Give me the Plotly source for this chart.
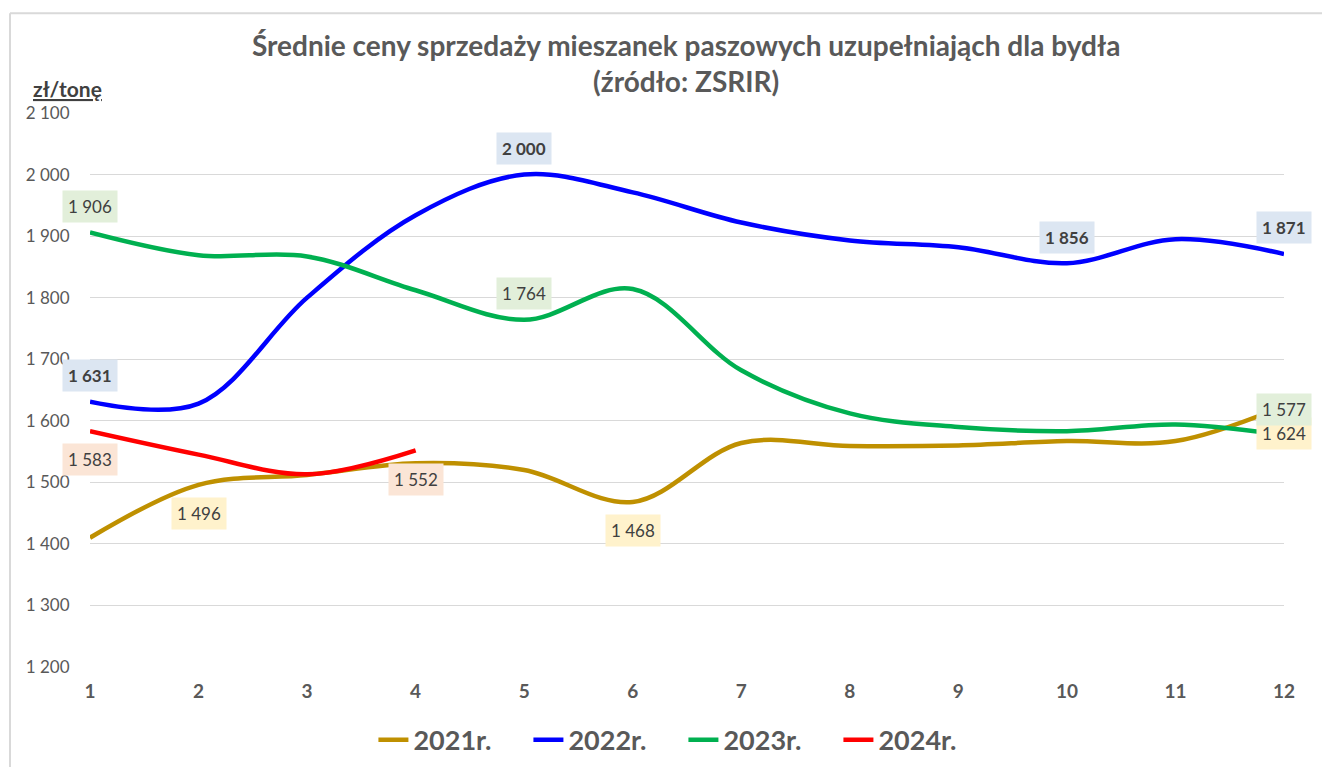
import plotly.graph_objects as go

months = list(range(1, 13))
y2021 = [1410, 1496, 1512, 1531, 1520, 1468, 1564, 1559, 1560, 1567, 1567, 1624]
y2022 = [1631, 1628, 1800, 1934, 2000, 1971, 1922, 1893, 1882, 1856, 1895, 1871]
y2023 = [1906, 1869, 1867, 1812, 1764, 1814, 1682, 1612, 1590, 1583, 1594, 1577]
y2024 = [1583, 1545, 1513, 1552]

series_names = ["2021r.", "2022r.", "2023r.", "2024r."]
series_vals = [y2021, y2022, y2023, y2024]
colors = ["#bf9000", "#0000ff", "#00b050", "#ff0000"]
label_bg = ["#fff2cc", "#dce6f2", "#e2efda", "#fbe5d6"]

# which points carry data labels: (series index, month index, yshift)
labels = [
    (0, 1, -29), (0, 5, -28), (0, 11, -27),
    (1, 0, 26), (1, 4, 26), (1, 9, 26), (1, 11, 26),
    (2, 0, 26), (2, 4, 26), (2, 11, 25),
    (3, 0, -28), (3, 3, -29),
]

FONT = "Lato"
fig = go.Figure()
for name, vals, col in zip(series_names, series_vals, colors):
    fig.add_trace(go.Scatter(
        x=months[:len(vals)], y=vals, name=name, mode="lines",
        line=dict(color=col, width=4.5, shape="spline", smoothing=1.0),
        hoverinfo="x+y",
    ))

def fmt(v):
    return f"{v:,}".replace(",", " ")

annotations = []
for si, mi, ys in labels:
    v = series_vals[si][mi]
    txt = fmt(v)
    if si == 1:
        txt = f"<b>{txt}</b>"
    annotations.append(dict(
        x=months[mi], y=v, xref="x", yref="y", text=txt, showarrow=False,
        yshift=ys, bgcolor=label_bg[si], borderpad=5,
        font=dict(family=FONT, size=17, color="#404040"),
    ))

annotations.append(dict(
    x=-0.019, y=1.045, xref="paper", yref="paper", text="<b><u>zł/tonę</u></b>",
    showarrow=False, xanchor="center", yanchor="middle",
    font=dict(family=FONT, size=21, color="#404040"),
))

fig.update_layout(
    width=1322, height=759,
    margin=dict(l=82, r=46, t=105, b=100, autoexpand=False),
    paper_bgcolor="white", plot_bgcolor="white",
    title=dict(
        text="<b>Średnie ceny sprzedaży mieszanek paszowych uzupełniająch dla bydła<br>(źródło: ZSRIR)</b>",
        x=0.513, xanchor="center", y=0.937, yanchor="middle",
        font=dict(family=FONT, size=28, color="#595959"),
    ),
    xaxis=dict(
        range=[1, 12], tickvals=months, ticktext=[f"<b>{m}</b>" for m in months],
        showgrid=False, zeroline=False, showline=False,
        tickfont=dict(family=FONT, size=19, color="#595959"),
        ticks="outside", ticklen=7, tickcolor="rgba(0,0,0,0)",
    ),
    yaxis=dict(
        range=[1200, 2100], tickvals=list(range(1200, 2101, 100)),
        ticktext=[fmt(v) for v in range(1200, 2101, 100)],
        showgrid=True, gridcolor="#d9d9d9", gridwidth=1, zeroline=False,
        showline=False,
        tickfont=dict(family=FONT, size=17, color="#595959"),
        ticks="outside", ticklen=16, tickcolor="rgba(0,0,0,0)",
    ),
    legend=dict(
        orientation="h", x=0.497, xanchor="center", y=-0.132, yanchor="middle",
        font=dict(family=FONT, size=27, color="#595959", weight="bold"),
        entrywidth=110, traceorder="normal",
    ),
    annotations=annotations,
    shapes=[
        dict(type="line", xref="paper", yref="paper", x0=-0.067, x1=1.1, y0=1.180, y1=1.180,
             line=dict(color="#d9d9d9", width=2)),
        dict(type="line", xref="paper", yref="paper", x0=-0.067, x1=-0.067, y0=1.180, y1=-0.3,
             line=dict(color="#d9d9d9", width=2)),
    ],
)

fig.write_html("out.html")
